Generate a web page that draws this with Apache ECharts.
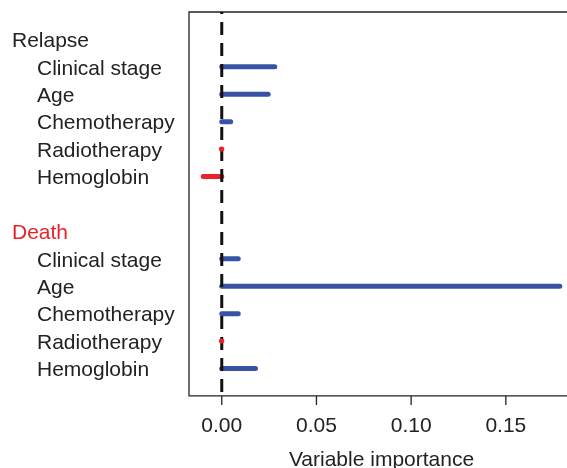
<!DOCTYPE html>
<html>
<head>
<meta charset="utf-8">
<script src="https://cdn.jsdelivr.net/npm/echarts@6/dist/echarts.min.js"></script>
<style>
  html, body { margin: 0; padding: 0; background: #fff; }
  #chart { width: 567px; height: 468px; }
</style>
</head>
<body>
<div id="chart"></div>
<script>
// Outcome groups and the factors listed under each
const groups = ['Relapse', 'Death'];
const factors = ['Clinical stage', 'Age', 'Chemotherapy', 'Radiotherapy', 'Hemoglobin'];

// Variable importance per factor, in the order of `factors`
const relapseImportance = [0.028, 0.0245, 0.0047, -0.0002, -0.0098];
const deathImportance = [0.0087, 0.1785, 0.0087, -0.0002, 0.0178];

// Tick labels of the importance axis
const xTicks = [0, 0.05, 0.10, 0.15];

const BLUE = '#3853a4';
const RED = '#e8232b';
const INK = '#222';
const FONT = 'Liberation Sans, Arial, Helvetica, sans-serif';
const FS = 21;

// Extent of the importance axis
const X_MIN = -0.0173;
const X_MAX = 0.186;

// Row layout: group header, its five factors, a blank row, next group ...
const rowLabels = ['']; // row 0 is empty padding
const barData = [];   // visible segments
const dotData = [];   // near-zero importances, drawn as dots above the zero line
const groupValues = [relapseImportance, deathImportance];
groups.forEach((g, gi) => {
  rowLabels.push('{' + (gi === 0 ? 'h' : 'd') + '|' + g + '}');
  factors.forEach((f, fi) => {
    const row = rowLabels.length;
    rowLabels.push('{f|' + f + '}');
    const v = groupValues[gi][fi];
    (Math.abs(v) < 0.001 ? dotData : barData).push([v, row]);
  });
  if (gi < groups.length - 1) rowLabels.push('');
});
const rowMax = rowLabels.length;  // bottom edge of the frame (one padding row)
const TICK_ROWS = 0.33;           // room below the frame for the outward ticks

function renderSegment(params, api) {
  const v = api.value(0);
  const row = api.value(1);
  const a = api.coord([0, row]);
  const b = api.coord([v, row]);
  return {
    type: 'line',
    shape: { x1: a[0], y1: a[1], x2: b[0], y2: b[1] },
    style: { stroke: v < 0 ? RED : BLUE, lineWidth: 5, lineCap: 'round' }
  };
}

// Tick mark hanging below the frame at each labelled value
function renderTick(params, api) {
  const top = api.coord([api.value(0), rowMax]);
  const bottom = api.coord([api.value(0), rowMax + TICK_ROWS]);
  return {
    type: 'line',
    shape: { x1: top[0], y1: top[1], x2: bottom[0], y2: bottom[1] },
    style: { stroke: INK, lineWidth: 1.3 }
  };
}

// Plot frame spanning the full x extent and rows 0..rowMax
function renderFrame(params, api) {
  const tl = api.coord([X_MIN, 0]);
  const br = api.coord([X_MAX, rowMax]);
  return {
    type: 'rect',
    shape: { x: tl[0], y: tl[1], width: br[0] - tl[0], height: br[1] - tl[1] },
    style: { fill: null, stroke: INK, lineWidth: 1.3 }
  };
}

const chart = echarts.init(document.getElementById('chart'), null, { renderer: 'canvas' });

chart.setOption({
  animation: false,
  textStyle: { fontFamily: FONT },
  grid: {
    left: 189, top: 12, width: 385, height: 393,
    containLabel: false,
    outerBoundsMode: 'none',
    show: false
  },
  xAxis: {
    type: 'value',
    min: X_MIN,
    max: X_MAX,
    position: 'bottom',
    axisLine: { show: false, onZero: false },
    splitLine: { show: false },
    axisTick: { show: false },
    axisLabel: {
      customValues: xTicks,
      formatter: v => v.toFixed(2),
      fontSize: FS, color: INK, margin: 11, fontFamily: FONT
    },
    name: 'Variable importance',
    nameLocation: 'middle',
    nameGap: 45,
    nameMoveOverlap: false,
    nameTextStyle: { fontSize: FS, color: INK, fontFamily: FONT }
  },
  yAxis: {
    type: 'value',
    min: 0,
    max: rowMax + TICK_ROWS,
    interval: 1,
    inverse: true,
    axisLine: { show: false, onZero: false },
    axisTick: { show: false },
    splitLine: { show: false },
    axisLabel: {
      align: 'left',
      margin: 177,
      showMaxLabel: false,
      formatter: v => rowLabels[v] || '',
      rich: {
        h: { fontSize: FS, color: INK, fontFamily: FONT, padding: [4, 0, 0, 0] },
        d: { fontSize: FS, color: RED, fontFamily: FONT, padding: [4, 0, 0, 0] },
        f: { fontSize: FS, color: INK, fontFamily: FONT, padding: [4, 0, 0, 25] }
      }
    }
  },
  series: [
    { type: 'custom', data: [[X_MIN, 0]], z: 1, silent: true, clip: false, renderItem: renderFrame },
    { type: 'custom', data: xTicks.map(v => [v, rowMax]), z: 1, silent: true, clip: false, renderItem: renderTick },
    { type: 'custom', data: barData, z: 2, renderItem: renderSegment },
    {
      // dashed reference line at zero importance
      type: 'line',
      data: [[0, 0], [0, rowMax]],
      symbol: 'none',
      silent: true,
      z: 5,
      lineStyle: { color: '#111', width: 3, type: [13, 8], dashOffset: 11 }
    },
    { type: 'custom', data: dotData, z: 6, renderItem: renderSegment }
  ]
});
</script>
</body>
</html>
